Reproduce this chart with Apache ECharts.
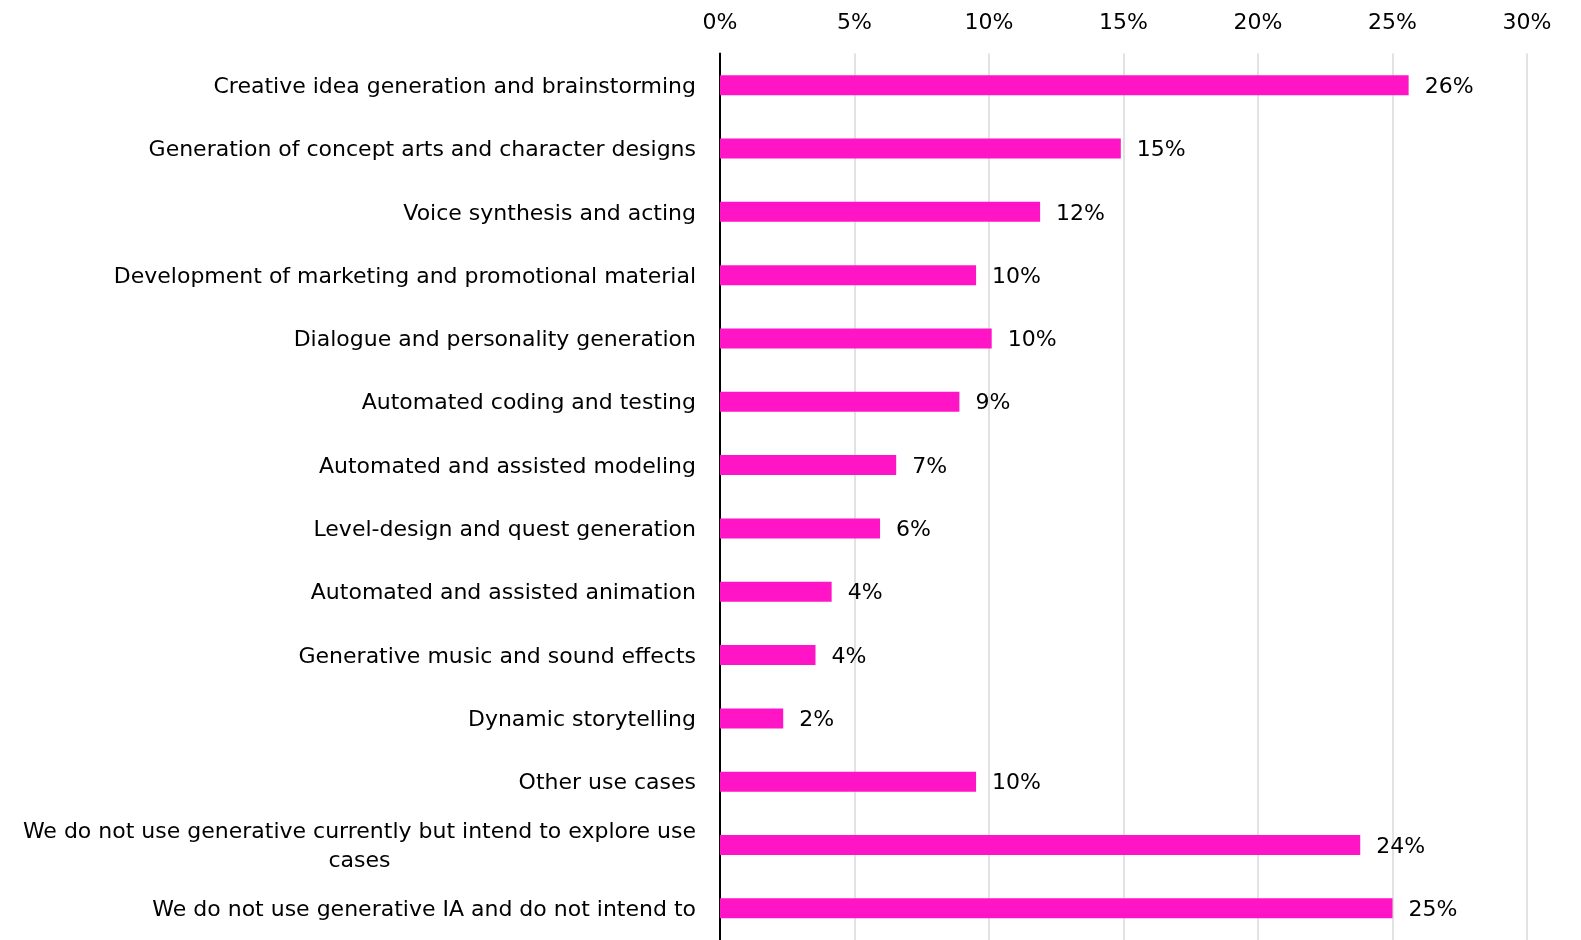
<!DOCTYPE html>
<html>
<head>
<meta charset="utf-8">
<title>Generative AI use cases</title>
<script src="https://cdn.jsdelivr.net/npm/echarts@6/dist/echarts.min.js"></script>
<style>
  html, body { margin: 0; padding: 0; background: #ffffff; }
  #chart { width: 1581px; height: 940px; }
</style>
</head>
<body>
<div id="chart"></div>
<script>
// Use-case categories, top to bottom
const categories = [
  'Creative idea generation and brainstorming',
  'Generation of concept arts and character designs',
  'Voice synthesis and acting',
  'Development of marketing and promotional material',
  'Dialogue and personality generation',
  'Automated coding and testing',
  'Automated and assisted modeling',
  'Level-design and quest generation',
  'Automated and assisted animation',
  'Generative music and sound effects',
  'Dynamic storytelling',
  'Other use cases',
  'We do not use generative currently but intend to explore use\ncases',
  'We do not use generative IA and do not intend to'
];

// Share of respondents (%)
const shares = [25.6, 14.9, 11.9, 9.52, 10.1, 8.9, 6.55, 5.95, 4.15, 3.55, 2.35, 9.52, 23.8, 25.0];

// Percent axis ticks
const axisMin = 0;
const axisMax = 30;
const axisStep = 5;

const FONT = '"DejaVu Sans", "Liberation Sans", sans-serif';
const FONT_SIZE = 22;

const chart = echarts.init(document.getElementById('chart'), null, { renderer: 'canvas' });

chart.setOption({
  backgroundColor: '#ffffff',
  animation: false,
  grid: { left: 720, right: 54, top: 53.5, bottom: -3, containLabel: false },
  xAxis: {
    type: 'value',
    position: 'top',
    min: axisMin,
    max: axisMax,
    interval: axisStep,
    axisLine: { show: false },
    axisTick: { show: false },
    axisLabel: {
      formatter: '{value}%',
      fontFamily: FONT,
      fontSize: FONT_SIZE,
      color: '#000000',
      margin: 19
    },
    splitLine: { show: true, lineStyle: { color: '#d9d9d9', width: 1.5 } }
  },
  yAxis: {
    type: 'category',
    inverse: true,
    data: categories,
    axisLine: { show: true, onZero: false, lineStyle: { color: '#000000', width: 2 } },
    axisTick: { show: false },
    axisLabel: {
      margin: 24,
      fontFamily: FONT,
      fontSize: FONT_SIZE,
      color: '#000000',
      lineHeight: 29,
      padding: [4, 0, 0, 0],
      formatter: function (v) {
        return v.split('\n').map(function (line) { return '{c|' + line + '}'; }).join('\n');
      },
      rich: {
        c: { align: 'center', fontFamily: FONT, fontSize: FONT_SIZE, color: '#000000', lineHeight: 29 }
      }
    }
  },
  series: [{
    type: 'bar',
    data: shares,
    barWidth: 20,
    itemStyle: { color: '#ff14c6' },
    label: {
      show: true,
      position: 'right',
      distance: 16,
      offset: [0, 2],
      fontFamily: FONT,
      fontSize: FONT_SIZE,
      color: '#000000',
      formatter: function (p) { return Math.round(p.value) + '%'; }
    }
  }]
});
</script>
</body>
</html>
